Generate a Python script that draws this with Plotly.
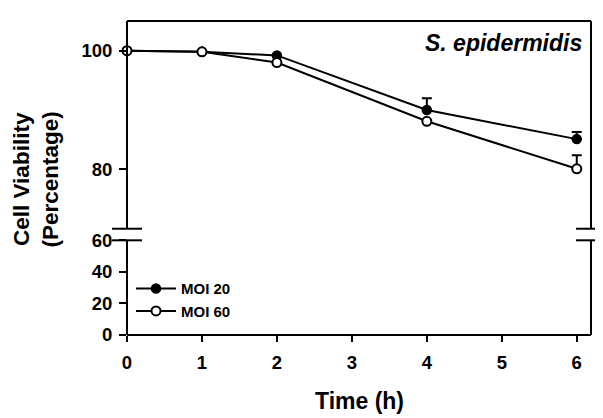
import plotly.graph_objects as go

time_h = [0, 1, 2, 4, 6]
moi20 = [100, 99.8, 99.2, 90.0, 85.1]
moi20_err = [0, 0, 0, 2.0, 1.2]
moi60 = [100, 99.8, 98.0, 88.1, 80.1]
moi60_err = [0, 0, 0, 0, 2.3]
x_ticks = [0, 1, 2, 3, 4, 5, 6]
lower_ticks = [0, 20, 40, 60]
upper_ticks = [80, 100]

# page offset: browsers add an 8px body margin around the plot div
OFF = 8
W, H = 603 - OFF, 418 - OFF
L, R, T = 127 - OFF, 12, 10 - OFF
ph = 325
B = H - T - ph
pw = W - L - R
low_top = (335 - 237) / ph
up_bot = (335 - 225) / ph

font = "Liberation Sans, Arial, sans-serif"

fig = go.Figure()
series = [("MOI 20", moi20, moi20_err, "black", 1.5), ("MOI 60", moi60, moi60_err, "white", 2)]
for name, vals, err, fill, bw in series:
    fig.add_trace(go.Scatter(
        x=time_h, y=vals, name=name, yaxis="y2", mode="lines+markers",
        line=dict(color="black", width=2),
        marker=dict(symbol="circle", size=9, color=fill, line=dict(color="black", width=bw)),
        error_y=dict(type="data", symmetric=False, array=err, arrayminus=[0]*len(err),
                     color="black", thickness=2, width=5),
        cliponaxis=False,
    ))
for name, vals, err, fill, bw in series:
    fig.add_trace(go.Scatter(
        x=time_h, y=vals, name=name, yaxis="y", mode="lines+markers",
        line=dict(color="black", width=2),
        marker=dict(symbol="circle", size=9, color=fill, line=dict(color="black", width=bw)),
        showlegend=False, hoverinfo="skip", cliponaxis=True,
    ))

axfont = dict(family=font, size=18.5, color="black", weight="bold")
fig.update_layout(
    width=W, height=H,
    margin=dict(l=L, r=R, t=T, b=B),
    plot_bgcolor="white", paper_bgcolor="white",
    showlegend=True,
    legend=dict(x=4 / pw, y=0.2, xanchor="left", yanchor="top",
                font=dict(family=font, size=15, color="black", weight="bold"),
                bgcolor="rgba(0,0,0,0)", tracegroupgap=0, itemwidth=40),
    xaxis=dict(range=[0, 6.19], tickvals=x_ticks, ticks="outside", ticklen=6, tickwidth=2,
               tickcolor="black", showline=False, showgrid=False, zeroline=False,
               tickfont=axfont, anchor="y", ticklabelstandoff=5),
    yaxis=dict(domain=[0, low_top], range=[0, 60], tickvals=lower_ticks, ticks="outside",
               ticklen=7, tickwidth=2, tickcolor="black", showline=False, showgrid=False,
               zeroline=False, tickfont=axfont, anchor="x", ticklabelstandoff=3),
    yaxis2=dict(domain=[up_bot, 1], range=[70, 105], tickvals=upper_ticks, ticks="outside",
                ticklen=7, tickwidth=2, tickcolor="black", showline=False, showgrid=False,
                zeroline=False, tickfont=axfont, anchor="x", ticklabelstandoff=3),
)

ln = dict(color="black", width=2)
shapes = [
    dict(type="line", xref="paper", yref="paper", x0=0, x1=1, y0=0, y1=0, line=ln),
    dict(type="line", xref="paper", yref="paper", x0=0, x1=1, y0=1, y1=1, line=ln),
    dict(type="line", xref="paper", yref="paper", x0=0, x1=0, y0=0, y1=low_top, line=ln),
    dict(type="line", xref="paper", yref="paper", x0=0, x1=0, y0=up_bot, y1=1, line=ln),
    dict(type="line", xref="paper", yref="paper", x0=1, x1=1, y0=0, y1=low_top, line=ln),
    dict(type="line", xref="paper", yref="paper", x0=1, x1=1, y0=up_bot, y1=1, line=ln),
]
for xc in (0, 1):
    for yc in (low_top, up_bot):
        shapes.append(dict(type="line", xref="paper", yref="paper",
                           x0=xc - 15 / pw, x1=xc + 15 / pw, y0=yc, y1=yc, line=ln))
fig.update_layout(shapes=shapes)

def px(xp):
    return (xp - 127) / pw

def py(yp):
    return (335 - yp) / ph

fig.add_annotation(text="<b><i>S. epidermidis</i></b>", xref="paper", yref="paper",
                   x=px(584), y=py(33), xanchor="right", yanchor="middle",
                   showarrow=False, font=dict(family=font, size=23, color="black"))
fig.add_annotation(text="<b>Cell Viability<br>(Percentage)</b>", xref="paper", yref="paper",
                   x=px(36), y=py(174), xanchor="center", yanchor="middle",
                   textangle=-90, showarrow=False,
                   font=dict(family=font, size=22.5, color="black"))
fig.add_annotation(text="<b>Time (h)</b>", xref="paper", yref="paper",
                   x=px(359), y=py(403), xanchor="center", yanchor="middle",
                   showarrow=False, font=dict(family=font, size=23, color="black"))

fig.write_html("out.html")
